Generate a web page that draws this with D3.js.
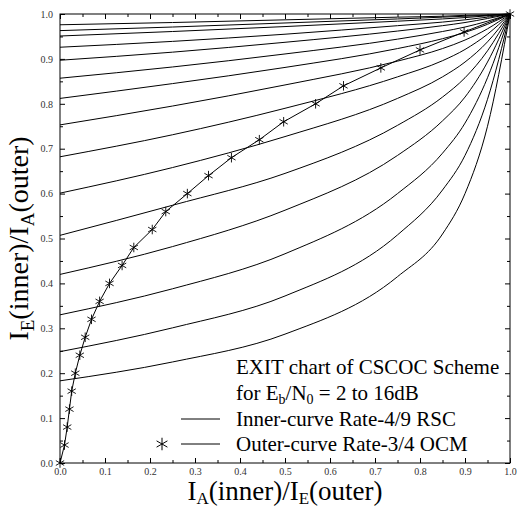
<!DOCTYPE html>
<html>
<head>
<meta charset="utf-8">
<script src="https://cdn.jsdelivr.net/npm/d3@7"></script>
<style>
  body { margin: 0; background: #fff; }
  svg { display: block; }
</style>
</head>
<body>
<script>
// I_A(inner) sample points shared by all inner curves
const IA_GRID = [0, 0.25, 0.5, 0.75, 0.85, 0.9, 0.95, 1];

// Eb/N0 values of the inner curves (lowest curve = 2 dB)
const EBN0_DB = [2, 3, 4, 5, 6, 7, 8, 9, 10, 11, 12, 13, 14, 15, 16];

// I_E(inner) for each Eb/N0, read at IA_GRID
const INNER_IE = [
  [0.183, 0.225, 0.287, 0.415, 0.510, 0.600, 0.750, 1],
  [0.248, 0.301, 0.372, 0.508, 0.608, 0.685, 0.810, 1],
  [0.330, 0.388, 0.466, 0.600, 0.690, 0.757, 0.858, 1],
  [0.420, 0.482, 0.563, 0.685, 0.762, 0.815, 0.893, 1],
  [0.507, 0.574, 0.645, 0.752, 0.815, 0.858, 0.918, 1],
  [0.601, 0.658, 0.727, 0.812, 0.860, 0.893, 0.938, 1],
  [0.682, 0.731, 0.790, 0.860, 0.896, 0.921, 0.955, 1],
  [0.753, 0.795, 0.842, 0.895, 0.923, 0.942, 0.967, 1],
  [0.812, 0.845, 0.881, 0.923, 0.945, 0.959, 0.977, 1],
  [0.857, 0.882, 0.911, 0.944, 0.961, 0.971, 0.984, 1],
  [0.897, 0.915, 0.937, 0.962, 0.974, 0.981, 0.990, 1],
  [0.926, 0.939, 0.955, 0.974, 0.982, 0.987, 0.993, 1],
  [0.951, 0.961, 0.972, 0.984, 0.989, 0.992, 0.996, 1],
  [0.963, 0.971, 0.980, 0.989, 0.993, 0.995, 0.997, 1],
  [0.976, 0.981, 0.987, 0.993, 0.995, 0.997, 0.998, 1]
];

// outer curve (plotted with swapped axes): I_E(outer) on x, I_A(outer) on y
const OUTER_IE = [0, 0.010, 0.016, 0.021, 0.026, 0.034, 0.044, 0.056, 0.070, 0.088,
  0.110, 0.138, 0.164, 0.205, 0.235, 0.283, 0.330, 0.381, 0.443, 0.497,
  0.568, 0.630, 0.713, 0.800, 0.898, 1];
const OUTER_IA = [0, 0.04, 0.08, 0.12, 0.16, 0.20, 0.24, 0.28, 0.32, 0.36,
  0.40, 0.44, 0.48, 0.52, 0.56, 0.60, 0.64, 0.68, 0.72, 0.76,
  0.80, 0.84, 0.88, 0.92, 0.96, 1.0];

const MAJOR_TICKS = d3.range(0, 11).map(i => i / 10);
const MINOR_TICKS = d3.range(0, 10).map(i => i / 10 + 0.05);

const W = 517, H = 509;
const margin = { top: 14, right: 7, bottom: 46, left: 60 };
const serif = "'Liberation Serif', 'Times New Roman', serif";

const svg = d3.select("body").append("svg")
  .attr("width", W)
  .attr("height", H)
  .style("font-family", serif);

const x = d3.scaleLinear().domain([0, 1]).range([margin.left, W - margin.right]);
const y = d3.scaleLinear().domain([0, 1]).range([H - margin.bottom, margin.top]);

// axes: ticks inward on all four sides
function styleAxis(ax, labels) {
  ax.attr("font-family", serif);
  ax.select(".domain").remove();
  ax.selectAll(".tick line").attr("stroke", "#000").attr("stroke-width", 1);
  ax.selectAll("text")
    .attr("font-size", 10)
    .attr("font-family", serif)
    .attr("fill", "#333")
    .style("display", labels ? null : "none");
}

const fmt = d3.format(".1f");

svg.append("g").attr("transform", `translate(0,${y(0)})`)
  .call(d3.axisBottom(x).tickValues(MAJOR_TICKS).tickSize(-5).tickPadding(5).tickFormat(fmt))
  .call(ax => styleAxis(ax, true));
svg.append("g").attr("transform", `translate(0,${y(0)})`)
  .call(d3.axisBottom(x).tickValues(MINOR_TICKS).tickSize(-3).tickFormat(""))
  .call(ax => styleAxis(ax, false));
svg.append("g").attr("transform", `translate(0,${y(1)})`)
  .call(d3.axisTop(x).tickValues(MAJOR_TICKS).tickSize(-5).tickFormat(""))
  .call(ax => styleAxis(ax, false));
svg.append("g").attr("transform", `translate(0,${y(1)})`)
  .call(d3.axisTop(x).tickValues(MINOR_TICKS).tickSize(-3).tickFormat(""))
  .call(ax => styleAxis(ax, false));

svg.append("g").attr("transform", `translate(${x(0)},0)`)
  .call(d3.axisLeft(y).tickValues(MAJOR_TICKS).tickSize(-5).tickPadding(7).tickFormat(fmt))
  .call(ax => styleAxis(ax, true));
svg.append("g").attr("transform", `translate(${x(0)},0)`)
  .call(d3.axisLeft(y).tickValues(MINOR_TICKS).tickSize(-3).tickFormat(""))
  .call(ax => styleAxis(ax, false));
svg.append("g").attr("transform", `translate(${x(1)},0)`)
  .call(d3.axisRight(y).tickValues(MAJOR_TICKS).tickSize(-5).tickFormat(""))
  .call(ax => styleAxis(ax, false));
svg.append("g").attr("transform", `translate(${x(1)},0)`)
  .call(d3.axisRight(y).tickValues(MINOR_TICKS).tickSize(-3).tickFormat(""))
  .call(ax => styleAxis(ax, false));

// frame
svg.append("rect")
  .attr("x", x(0)).attr("y", y(1))
  .attr("width", x(1) - x(0)).attr("height", y(0) - y(1))
  .attr("fill", "none").attr("stroke", "#000").attr("stroke-width", 1);

// inner curves
const innerLine = d3.line()
  .x(d => x(d[0]))
  .y(d => y(d[1]))
  .curve(d3.curveMonotoneX);

svg.append("g")
  .selectAll("path")
  .data(EBN0_DB.map((db, i) => IA_GRID.map((a, j) => [a, INNER_IE[i][j]])))
  .join("path")
    .attr("fill", "none")
    .attr("stroke", "#000")
    .attr("stroke-width", 1)
    .attr("d", innerLine);

// outer curve
const outerPts = OUTER_IE.map((e, i) => [e, OUTER_IA[i]]);
svg.append("path")
  .datum(outerPts)
  .attr("fill", "none")
  .attr("stroke", "#000")
  .attr("stroke-width", 1)
  .attr("d", d3.line().x(d => x(d[0])).y(d => y(d[1])));

const star = d3.symbol(d3.symbolAsterisk, 64);
svg.append("g")
  .selectAll("path")
  .data(outerPts)
  .join("path")
    .attr("transform", d => `translate(${x(d[0])},${y(d[1])})`)
    .attr("d", star)
    .attr("fill", "none")
    .attr("stroke", "#000")
    .attr("stroke-width", 0.9);

// text with subscripts: parts = [[string, isSub], ...]
function richText(t, parts, subSize, shift) {
  let down = false;
  parts.forEach(([s, sub]) => {
    const ts = t.append("tspan").text(s);
    if (sub) {
      ts.attr("font-size", subSize).attr("dy", shift);
      down = true;
    } else if (down) {
      ts.attr("dy", -shift);
      down = false;
    }
  });
}

// axis titles
const xTitle = svg.append("text")
  .attr("x", (x(0) + x(1)) / 2)
  .attr("y", 500)
  .attr("text-anchor", "middle")
  .attr("font-size", 27)
  .attr("fill", "#000");
richText(xTitle, [["I"], ["A", true], ["(inner)/I"], ["E", true], ["(outer)"]], 17, 4);

const yTitle = svg.append("text")
  .attr("transform", `translate(28,${(y(0) + y(1)) / 2}) rotate(-90)`)
  .attr("text-anchor", "middle")
  .attr("font-size", 28)
  .attr("fill", "#000");
richText(yTitle, [["I"], ["E", true], ["(inner)/I"], ["A", true], ["(outer)"]], 19, 6);

// legend
const legX = 236;
const legFont = 21;
svg.append("text")
  .attr("x", legX).attr("y", 374)
  .attr("font-size", legFont)
  .text("EXIT chart of CSCOC Scheme");

const l2 = svg.append("text")
  .attr("x", legX).attr("y", 400)
  .attr("font-size", legFont);
richText(l2, [["for E"], ["b", true], ["/N"], ["0", true], [" = 2 to 16dB"]], 14, 4);

svg.append("text")
  .attr("x", legX).attr("y", 426)
  .attr("font-size", legFont)
  .text("Inner-curve Rate-4/9 RSC");
svg.append("text")
  .attr("x", legX).attr("y", 451)
  .attr("font-size", legFont)
  .text("Outer-curve Rate-3/4 OCM");

svg.append("line")
  .attr("x1", 181).attr("x2", 220)
  .attr("y1", 419).attr("y2", 419)
  .attr("stroke", "#000").attr("stroke-width", 1);
svg.append("line")
  .attr("x1", 181).attr("x2", 220)
  .attr("y1", 444).attr("y2", 444)
  .attr("stroke", "#000").attr("stroke-width", 1);
svg.append("path")
  .attr("transform", "translate(162,444)")
  .attr("d", d3.symbol(d3.symbolAsterisk, 110)())
  .attr("fill", "none")
  .attr("stroke", "#000")
  .attr("stroke-width", 1);
</script>
</body>
</html>
